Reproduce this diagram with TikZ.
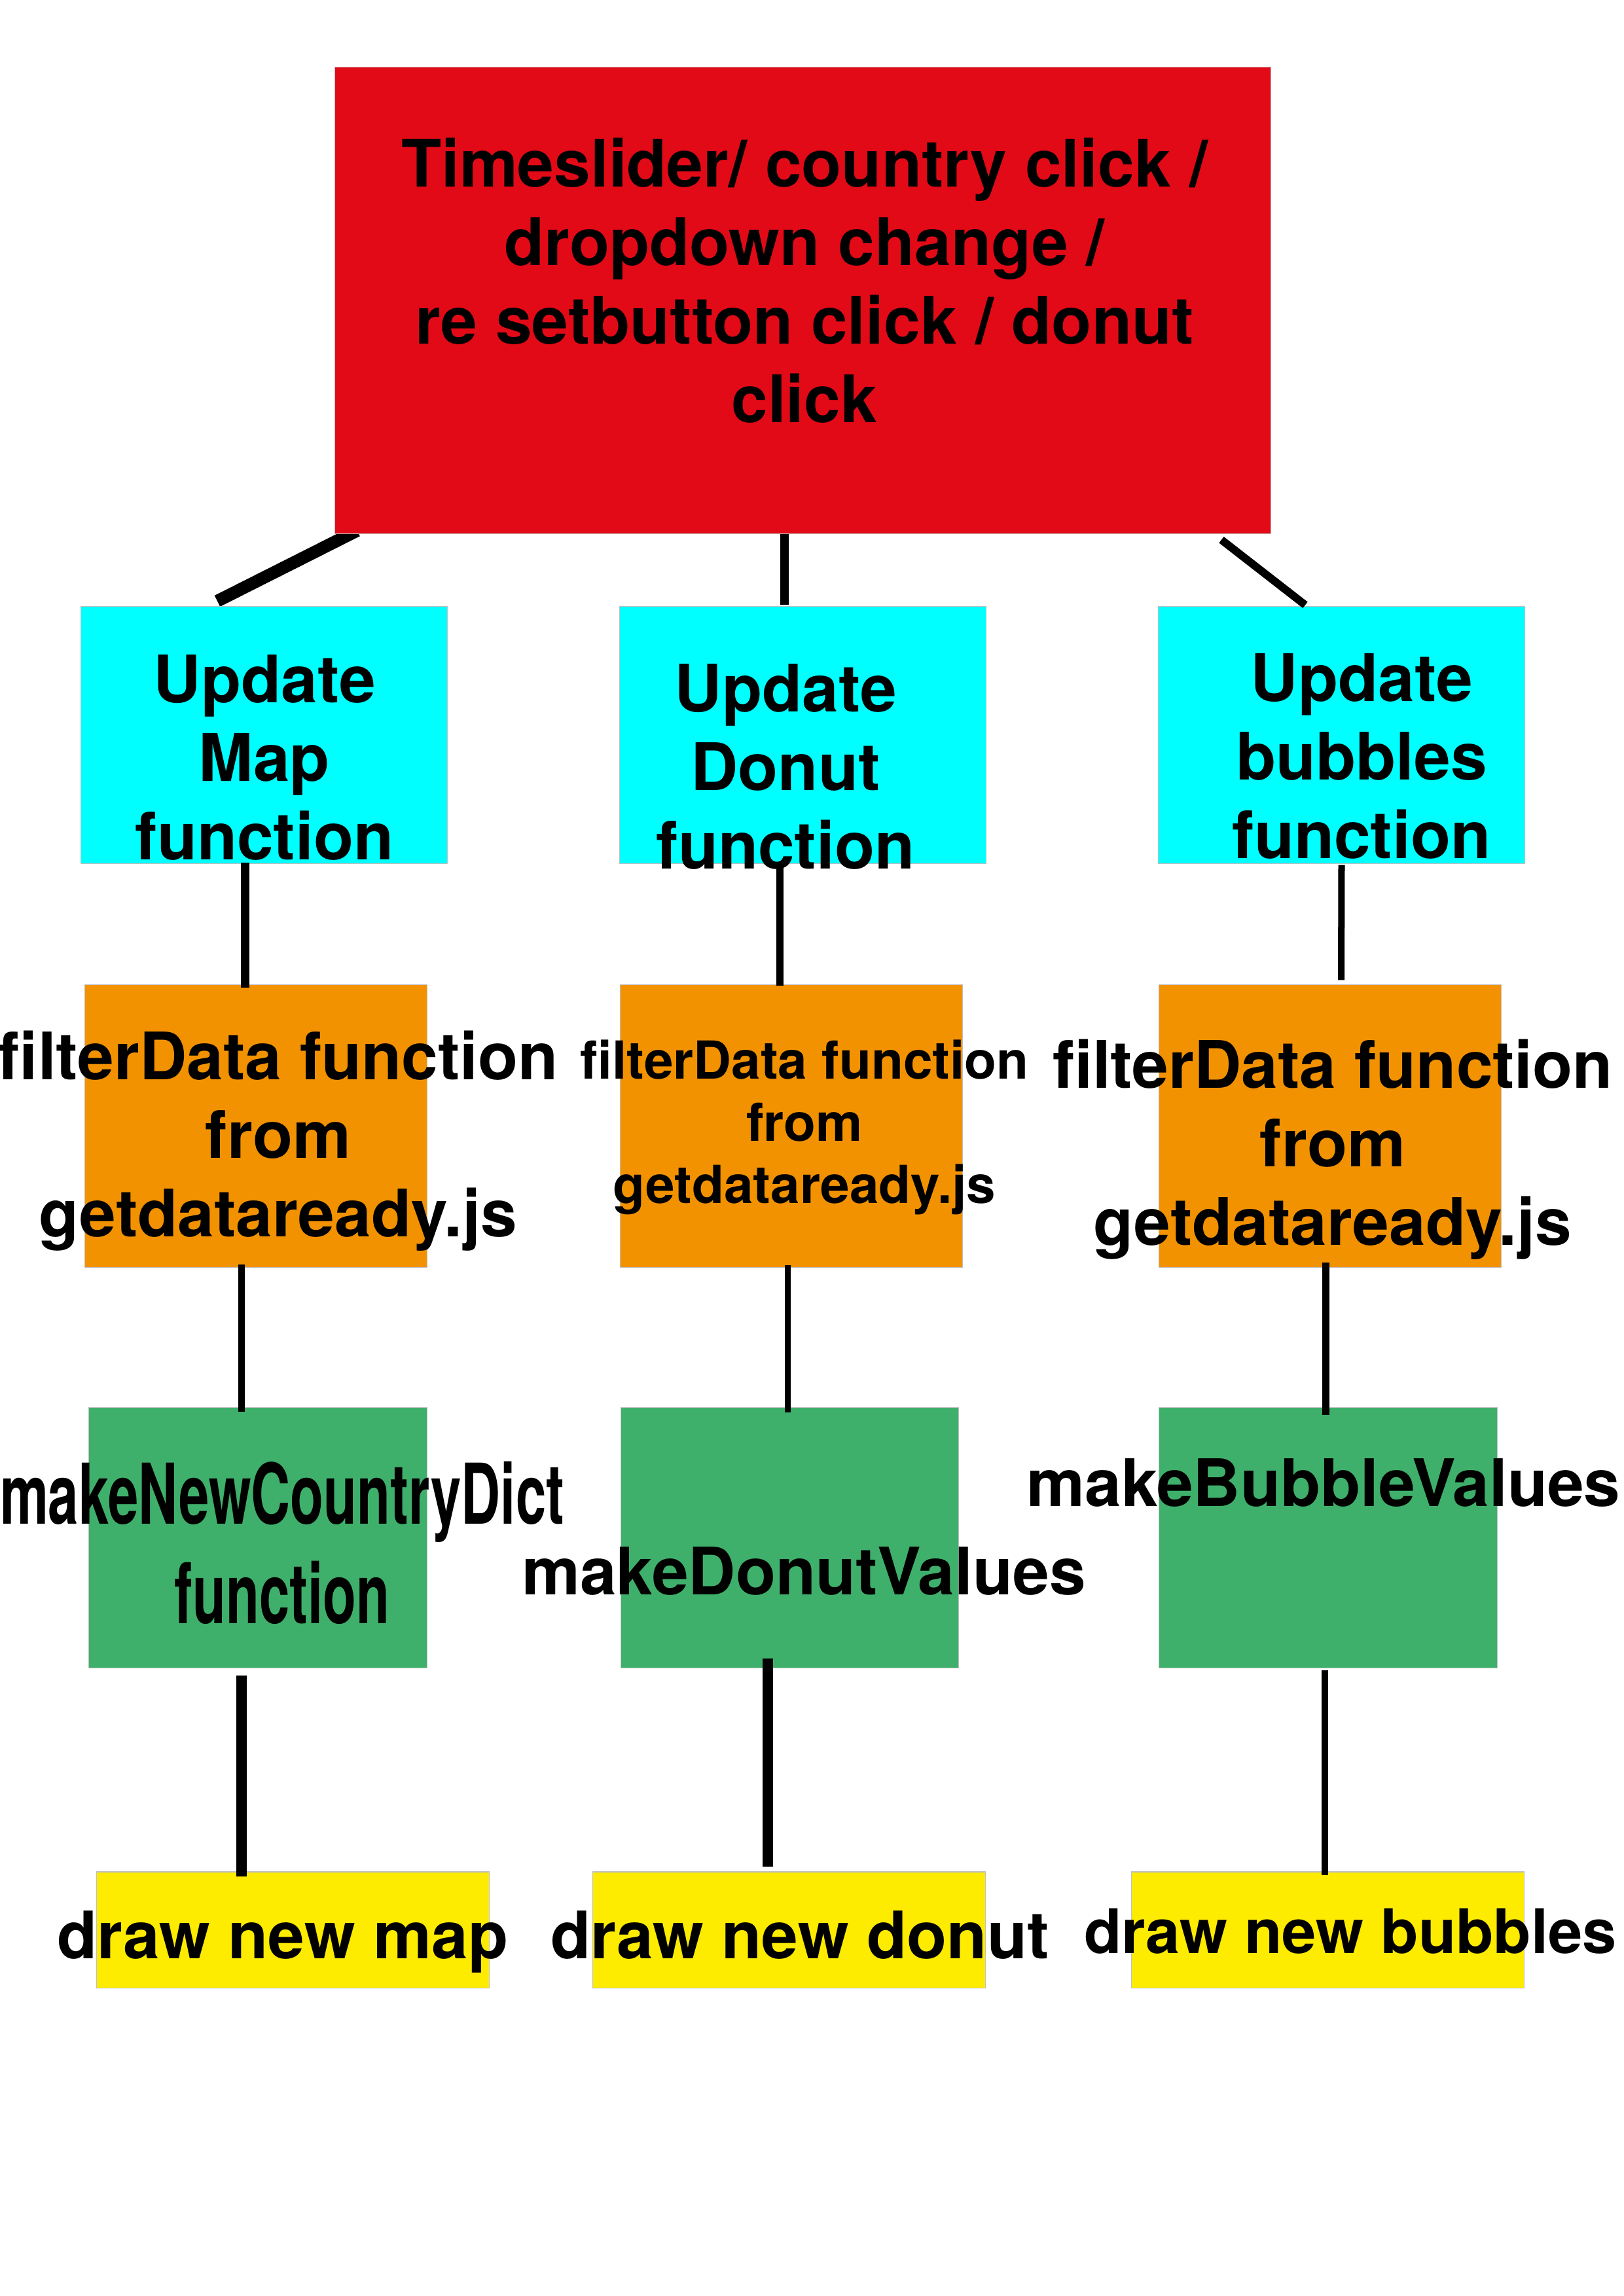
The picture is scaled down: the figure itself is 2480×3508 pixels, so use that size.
\documentclass[tikz,border=0pt]{standalone}
\usepackage{fontspec}
\setmainfont{TeX Gyre Heros}
\usepackage{tikz}
\usetikzlibrary{calc,backgrounds}

\definecolor{evtred}{HTML}{E20A17}
\definecolor{updcyan}{HTML}{00FFFF}
\definecolor{filtorange}{HTML}{F29200}
\definecolor{makegreen}{HTML}{3FB06B}
\definecolor{drawyellow}{HTML}{FDEB00}

\begin{document}
\begin{tikzpicture}[x=0.01cm, y=-0.01cm,
        box/.style={rectangle, draw=black!25, line width=0.3pt, inner sep=0pt},
        evtbox/.style={box, fill=evtred, minimum width=14.30cm, minimum height=7.12cm},
        updbox/.style={box, fill=updcyan, minimum width=5.59cm, minimum height=3.92cm},
        filtbox/.style={box, fill=filtorange, minimum width=5.22cm, minimum height=4.31cm},
        makebox/.style={box, fill=makegreen, minimum width=5.16cm, minimum height=3.97cm},
        drawbox/.style={box, fill=drawyellow, minimum width=5.99cm, minimum height=1.77cm},
        lbl/.style={font=\fontsize{28.45}{34.1}\selectfont\bfseries, align=center, inner sep=0pt, anchor=base},
        link/.style={draw=black, line cap=butt}]

                \useasboundingbox (0,0) rectangle (2480,3508);

                \node[evtbox]   (event)       at (1226.5,459)   {};
                \node[updbox]   (updMap)      at (403.5,1123)   {};
                \node[updbox]   (updDonut)    at (1226.5,1123)  {};
                \node[updbox]   (updBubbles)  at (2049.5,1123)  {};
                \node[filtbox]  (filtMap)     at (391,1720.5)   {};
                \node[filtbox]  (filtDonut)   at (1209,1720.5)  {};
                \node[filtbox]  (filtBubbles) at (2032,1720.5)  {};
                \node[makebox]  (makeMap)     at (394,2349.5)   {};
                \node[makebox]  (makeDonut)   at (1206.5,2349.5) {};
                \node[makebox]  (makeBubbles) at (2029,2349.5)  {};
                \node[drawbox]  (drawMap)     at (447.5,2948.5) {};
                \node[drawbox]  (drawDonut)   at (1205.5,2948.5) {};
                \node[drawbox]  (drawBubbles) at (2028.5,2948.5) {};

                \begin{pgfonlayer}{background}
                \draw[link, line width=0.19cm] ($(updMap.north)+(-71.5,-8)$) -- ($(event.south west)+(35,-5)$);
                \end{pgfonlayer}
                \draw[link, line width=0.13cm] ($(event.south)+(-28,0)$) -- ($(updDonut.north)+(-28,-2)$);
                \draw[link, line width=0.12cm] ($(event.south east)+(-76.5,9)$) -- ($(updBubbles.north)+(-55.5,-2)$);
                \draw[link, line width=0.13cm] ($(updMap.south)+(-29,-2)$) -- ($(filtMap.north)+(-16.5,5)$);
                \draw[link, line width=0.11cm] ($(updDonut.south)+(-35.5,1)$) -- ($(filtDonut.north)+(-18,2)$);
                \draw[link, line width=0.10cm] ($(updBubbles.south)+(0,2)$) -- ($(filtBubbles.north)+(17,-7)$);
                \draw[link, line width=0.10cm] ($(filtMap.south)+(-22,-5)$) -- ($(makeMap.north)+(-25,7)$);
                \draw[link, line width=0.09cm] ($(filtDonut.south)+(-6,-4)$) -- ($(makeDonut.north)+(-3.5,8)$);
                \draw[link, line width=0.11cm] ($(filtBubbles.south)+(-7,-8)$) -- ($(makeBubbles.north)+(-4,12)$);
                \draw[link, line width=0.16cm] ($(makeMap.south)+(-25,11)$) -- ($(drawMap.north)+(-78.5,8)$);
                \draw[link, line width=0.16cm] ($(makeDonut.south)+(-33.5,-15)$) -- ($(drawDonut.north)+(-32.5,-7)$);
                \draw[link, line width=0.10cm] ($(makeBubbles.south)+(-5,3)$) -- ($(drawBubbles.north)+(-4.5,6)$);

                \node[lbl] (tEvent) at (1229,645) {Timeslider/ country click /\\dropdown change /\\re setbutton click / donut\\click};
                \node[lbl] (tUpdMap) at (404,1313) {Update\\Map\\function};
                \node[lbl] (tUpdDonut) at (1200,1327) {Update\\Donut\\function};
                \node[lbl] (tUpdBubbles) at (2080,1311) {Update\\bubbles\\function};
                \node[lbl] (tFiltMap) at (425,1889) {filterData function\\from\\getdataready.js};
                \node[lbl, font=\fontsize{22.76}{27}\selectfont\bfseries] (tFiltDonut) at (1229,1838) {filterData function\\from\\getdataready.js};
                \node[lbl] (tFiltBubbles) at (2036,1902) {filterData function\\from\\getdataready.js};
                \node[lbl, font=\fontsize{36.4}{43.2}\selectfont\bfseries] (tMakeMap) at (431,2480) {\scalebox{0.65}[1]{makeNewCountryDict}\\\scalebox{0.65}[1]{function}};
                \node[lbl] (tMakeDonut) at (1228,2436) {makeDonutValues};
                \node[lbl] (tMakeBubbles) at (2022,2301) {makeBubbleValues};
                \node[lbl] (tDrawMap) at (432,2992) {draw new map};
                \node[lbl] (tDrawDonut) at (1222,2992) {draw new donut};
                \node[lbl, font=\fontsize{26.7}{32}\selectfont\bfseries] (tDrawBubbles) at (2063,2984) {draw new bubbles};
\end{tikzpicture}
\end{document}
